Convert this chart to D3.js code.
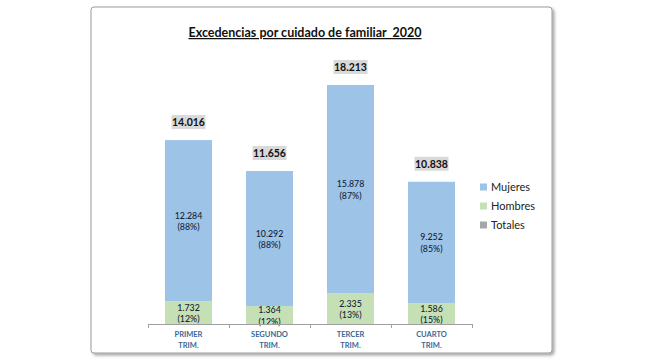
<!DOCTYPE html>
<html><head><meta charset="utf-8">
<script src="https://cdn.jsdelivr.net/npm/d3@7"></script>
<style>html,body{margin:0;padding:0;background:#fff;}svg{display:block;font-family:Lato,"Open Sans",sans-serif;}</style>
</head><body><svg id="c" width="650" height="364"></svg>
<script>
const categories = [["PRIMER","TRIM."],["SEGUNDO","TRIM."],["TERCER","TRIM."],["CUARTO","TRIM."]];
const mujeres = [12284, 10292, 15878, 9252];
const hombres = [1732, 1364, 2335, 1586];
const totales = [14016, 11656, 18213, 10838];
const mujeresPct = ["(88%)","(88%)","(87%)","(85%)"];
const hombresPct = ["(12%)","(12%)","(13%)","(15%)"];
const mujeresLbl = ["12.284","10.292","15.878","9.252"];
const hombresLbl = ["1.732","1.364","2.335","1.586"];
const totalesLbl = ["14.016","11.656","18.213","10.838"];
const seriesNames = ["Mujeres","Hombres","Totales"];
const colors = {Mujeres:"#9dc3e6", Hombres:"#c5e0b4", Totales:"#a6a6a6"};

const svg = d3.select("#c");
const defs = svg.append("defs");
const f = defs.append("filter").attr("id","sh").attr("x","-5%").attr("y","-5%").attr("width","115%").attr("height","115%");
f.append("feDropShadow").attr("dx",2).attr("dy",2).attr("stdDeviation",1.5).attr("flood-color","#000").attr("flood-opacity",0.35);

svg.append("rect").attr("x",91).attr("y",7).attr("width",461).attr("height",346).attr("rx",3)
  .attr("fill","#fff").attr("stroke","#9a9a9a").attr("stroke-width",1).attr("filter","url(#sh)");

svg.append("text").attr("x",305).attr("y",37).attr("text-anchor","middle")
  .attr("font-size",12.5).attr("font-weight","bold").attr("fill","#111")
  .attr("text-decoration","underline").style("white-space","pre")
  .text("Excedencias por cuidado de familiar  2020");

const x = d3.scaleBand().domain(d3.range(4)).range([148,472]).paddingInner(0.42).paddingOuter(0.21);
const y = d3.scaleLinear().domain([0,18213]).range([324,85]);

const g = svg.append("g");
const idx = d3.range(4);
g.selectAll(".h").data(idx).join("rect").attr("x",i=>x(i)).attr("width",x.bandwidth())
  .attr("y",i=>y(hombres[i])).attr("height",i=>y(0)-y(hombres[i])).attr("fill",colors.Hombres);
g.selectAll(".m").data(idx).join("rect").attr("x",i=>x(i)).attr("width",x.bandwidth())
  .attr("y",i=>y(hombres[i]+mujeres[i])).attr("height",i=>y(hombres[i])-y(hombres[i]+mujeres[i])).attr("fill",colors.Mujeres);

const axisG = svg.append("g");
axisG.append("line").attr("x1",148).attr("x2",472).attr("y1",324.5).attr("y2",324.5).attr("stroke","#a0a0a0");
const tickX = d3.range(5).map(i=>148+i*x.step());
axisG.selectAll(".t").data(tickX).join("line").attr("x1",d=>Math.round(d)+0.5).attr("x2",d=>Math.round(d)+0.5)
  .attr("y1",324).attr("y2",328).attr("stroke","#a0a0a0");
axisG.selectAll(".cl").data(idx).join("text").attr("text-anchor","middle")
  .attr("font-size",7.5).attr("font-weight","bold").attr("fill","#3a6794")
  .each(function(i){
    const t=d3.select(this);
    categories[i].forEach((s,k)=>t.append("tspan").attr("x",x(i)+x.bandwidth()/2).attr("y",337+k*10.5).text(s));
  });

function twoLine(sel, cx, cy, a, b){
  const t = sel.append("text").attr("text-anchor","middle").attr("font-size",8.8).attr("font-weight",500).attr("fill","#15233d");
  t.append("tspan").attr("x",cx).attr("y",cy-2).text(a);
  t.append("tspan").attr("x",cx).attr("y",cy+9.5).text(b);
}
idx.forEach(i=>{
  const cx = x(i)+x.bandwidth()/2;
  twoLine(g, cx, (y(hombres[i])+y(hombres[i]+mujeres[i]))/2, mujeresLbl[i], mujeresPct[i]);
  twoLine(g, cx, (y(0)+y(hombres[i]))/2, hombresLbl[i], hombresPct[i]);
  const ty = y(totales[i]) - 18;
  g.append("rect").attr("x",cx-17).attr("y",ty-7).attr("width",34).attr("height",14).attr("fill","#d9d9d9");
  g.append("text").attr("x",cx).attr("y",ty+4).attr("text-anchor","middle").attr("font-size",10.5)
    .attr("font-weight","bold").attr("fill","#111").text(totalesLbl[i]);
});

const lg = svg.append("g");
seriesNames.forEach((n,k)=>{
  const yy = 187 + k*19;
  lg.append("rect").attr("x",480).attr("y",yy-3.5).attr("width",7).attr("height",7).attr("fill",colors[n]);
  lg.append("text").attr("x",491).attr("y",yy+4).attr("font-size",11).attr("fill","#222").text(n);
});
</script></body></html>
